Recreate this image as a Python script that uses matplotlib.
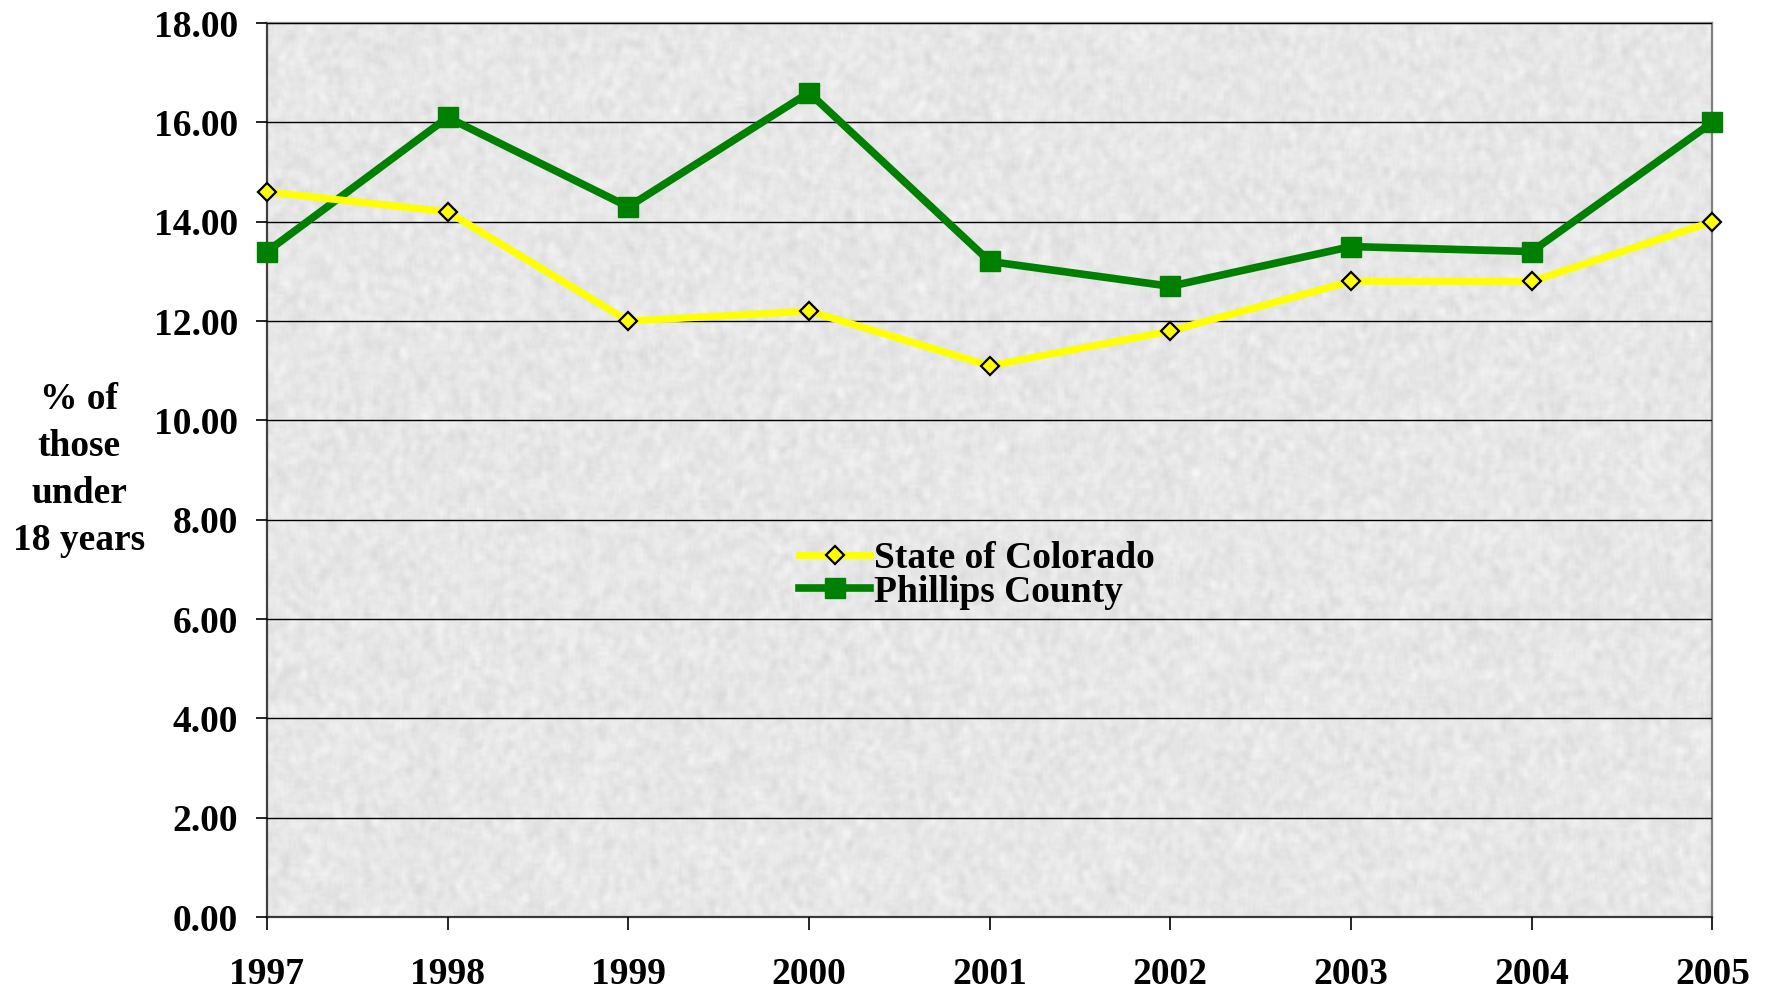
import matplotlib.pyplot as plt
import numpy as np

years = ["1997", "1998", "1999", "2000", "2001", "2002", "2003", "2004", "2005"]
colorado = [14.6, 14.2, 12.0, 12.2, 11.1, 11.8, 12.8, 12.8, 14.0]
phillips = [13.4, 16.1, 14.3, 16.6, 13.2, 12.7, 13.5, 13.4, 16.0]
y_ticks = [0, 2, 4, 6, 8, 10, 12, 14, 16, 18]

plt.rcParams['font.family'] = ['Liberation Serif', 'DejaVu Serif']
plt.rcParams['font.weight'] = 'bold'

fig = plt.figure(figsize=(17.67, 9.9), dpi=100)
ax = fig.add_axes([0.1511, 0.0737, 0.818, 0.903])

# granite-like backdrop (decoration only)
rng = np.random.default_rng(3)
tex = rng.normal(0, 1, (300, 600))
k = np.ones(3) / 3
tex = np.apply_along_axis(lambda r: np.convolve(r, k, mode='same'), 1, tex)
tex = np.apply_along_axis(lambda c: np.convolve(c, k, mode='same'), 0, tex)
tex = 0.905 + 0.045 * tex
ax.imshow(tex, cmap='gray', vmin=0, vmax=1, extent=[0, len(years) - 1, 0, 18],
          aspect='auto', zorder=0, interpolation='bilinear')

x = np.arange(len(years))
ax.plot(x, colorado, color='#ffff00', lw=5.2, marker='D', ms=9,
        mfc='#ffff00', mec='black', mew=1.6, label='State of Colorado', zorder=4,
        clip_on=False)
ax.plot(x, phillips, color='#008000', lw=5.5, marker='s', ms=14,
        mfc='#008000', mec='#008000', label='Phillips County', zorder=3,
        clip_on=False)

ax.set_xlim(0, len(years) - 1)
ax.set_ylim(0, 18)
ax.set_yticks(y_ticks)
ax.set_yticklabels([f"{v:.2f}" for v in y_ticks])
ax.set_xticks(x)
ax.set_xticklabels(years)
ax.yaxis.grid(True, color='black', lw=1.0, zorder=1)
ax.set_axisbelow(False)
for line in ax.get_ygridlines():
    line.set_zorder(1)

ax.tick_params(axis='y', labelsize=27, length=8, width=1.2, pad=13, direction='out')
ax.tick_params(axis='x', labelsize=27, length=9, width=1.2, pad=20, direction='out')
for s in ['left', 'bottom']:
    ax.spines[s].set_color('#404040')
    ax.spines[s].set_linewidth(1.6)
for s in ['top', 'right']:
    ax.spines[s].set_color('#808080')
    ax.spines[s].set_linewidth(1.6)

fig.text(0.0447, 0.525, "% of\nthose\nunder\n18 years", ha='center', va='center',
         fontsize=27, fontweight='bold', multialignment='center', linespacing=1.45)

ax.legend(loc='center left', bbox_to_anchor=(0.35, 0.382), frameon=False,
          fontsize=27, handlelength=1.9, handletextpad=0.1, labelspacing=-0.05,
          borderpad=0.2)

plt.savefig('out.png', dpi=100)
